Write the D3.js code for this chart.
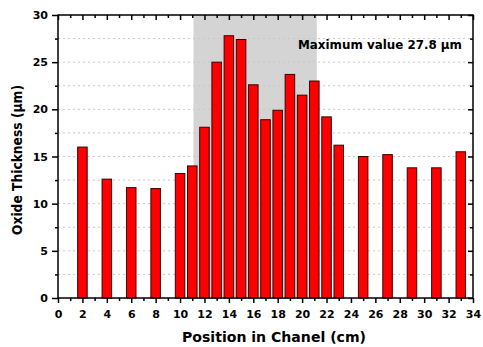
<!DOCTYPE html>
<html><head><meta charset="utf-8">
<script src="https://cdn.jsdelivr.net/npm/d3@7"></script>
<style>body{margin:0;background:#fff}svg{display:block}text{font-family:"DejaVu Sans",Arial,sans-serif;font-weight:bold}</style>
</head><body><svg id="c" width="483" height="347"></svg>
<script>
const positions = [2,4,6,8,10,11,12,13,14,15,16,17,18,19,20,21,22,23,25,27,29,31,33];
const thickness = [16.0,12.6,11.7,11.6,13.2,14.0,18.1,25.0,27.8,27.4,22.6,18.9,19.9,23.7,21.5,23.0,19.2,16.2,15.0,15.2,13.8,13.8,15.5];
const xTicks = d3.range(0,35,2);
const yTicks = [0,5,10,15,20,25,30];
const shadeRange = [11.1,21.2];
const annotation = "Maximum value 27.8 \u00b5m";
const xLabel = "Position in Chanel (cm)";
const yLabel = "Oxide Thickness (\u00b5m)";

const svg = d3.select("#c");
const m = {l:58,r:473,t:15,b:298};
const x = d3.scaleLinear().domain([0,34]).range([m.l,m.r]);
const y = d3.scaleLinear().domain([0,30]).range([m.b,m.t]);

svg.append("rect").attr("x",x(shadeRange[0])).attr("y",m.t).attr("width",x(shadeRange[1])-x(shadeRange[0])).attr("height",m.b-m.t).attr("fill","#d4d4d4");

// grid
svg.append("g").selectAll("line").data(d3.range(2.5,30,2.5)).join("line")
  .attr("x1",m.l).attr("x2",m.r).attr("y1",d=>y(d)).attr("y2",d=>y(d))
  .attr("stroke","#c8c8c8").attr("stroke-width",1).attr("stroke-dasharray","2,3");

const bw = x(0.78)-x(0);
svg.append("g").selectAll("rect").data(positions).join("rect")
  .attr("x",(d)=>x(d)-bw/2).attr("width",bw)
  .attr("y",(d,i)=>y(thickness[i])).attr("height",(d,i)=>y(0)-y(thickness[i]))
  .attr("fill","#ff0000").attr("stroke","#3a0000").attr("stroke-width",1);

// axes
const gB = svg.append("g").attr("transform",`translate(0,${m.b})`)
  .call(d3.axisBottom(x).tickValues(xTicks).tickSize(5).tickPadding(7).tickFormat(d3.format("d")));
const gBm = svg.append("g").attr("transform",`translate(0,${m.b})`)
  .call(d3.axisBottom(x).tickValues(d3.range(1,34,2)).tickSize(3).tickFormat(""));
const gT = svg.append("g").attr("transform",`translate(0,${m.t})`)
  .call(d3.axisBottom(x).tickValues(xTicks).tickSize(5).tickFormat(""));
const gTm = svg.append("g").attr("transform",`translate(0,${m.t})`)
  .call(d3.axisBottom(x).tickValues(d3.range(1,34,2)).tickSize(3).tickFormat(""));
const gL = svg.append("g").attr("transform",`translate(${m.l},0)`)
  .call(d3.axisLeft(y).tickValues(yTicks).tickSize(6).tickPadding(4));
const gLm = svg.append("g").attr("transform",`translate(${m.l},0)`)
  .call(d3.axisLeft(y).tickValues(d3.range(2.5,30,5)).tickSize(3).tickFormat(""));
const gR = svg.append("g").attr("transform",`translate(${m.r},0)`)
  .call(d3.axisLeft(y).tickValues(yTicks).tickSize(5).tickFormat(""));
const gRm = svg.append("g").attr("transform",`translate(${m.r},0)`)
  .call(d3.axisLeft(y).tickValues(d3.range(2.5,30,5)).tickSize(3).tickFormat(""));
[gB,gBm,gT,gTm,gL,gLm,gR,gRm].forEach(g=>{
  g.select(".domain").remove();
  g.selectAll("line").attr("stroke","#000").attr("stroke-width",1.5);
  g.selectAll("text").attr("font-size",11).attr("fill","#000")
    .style("font-family","'DejaVu Sans',Arial,sans-serif").style("font-weight","bold");
});
svg.append("rect").attr("x",m.l).attr("y",m.t).attr("width",m.r-m.l).attr("height",m.b-m.t)
  .attr("fill","none").attr("stroke","#000").attr("stroke-width",1.5);

svg.append("text").attr("x",298).attr("y",49).attr("font-size",12.5)
  .attr("textLength",164).attr("lengthAdjust","spacingAndGlyphs").text(annotation);
svg.append("text").attr("x",274).attr("y",342).attr("text-anchor","middle").attr("font-size",14)
  .attr("textLength",184).attr("lengthAdjust","spacingAndGlyphs").text(xLabel);
svg.append("text").attr("transform",`translate(22,160) rotate(-90)`).attr("text-anchor","middle").attr("font-size",14)
  .attr("textLength",150).attr("lengthAdjust","spacingAndGlyphs").text(yLabel);
</script></body></html>
